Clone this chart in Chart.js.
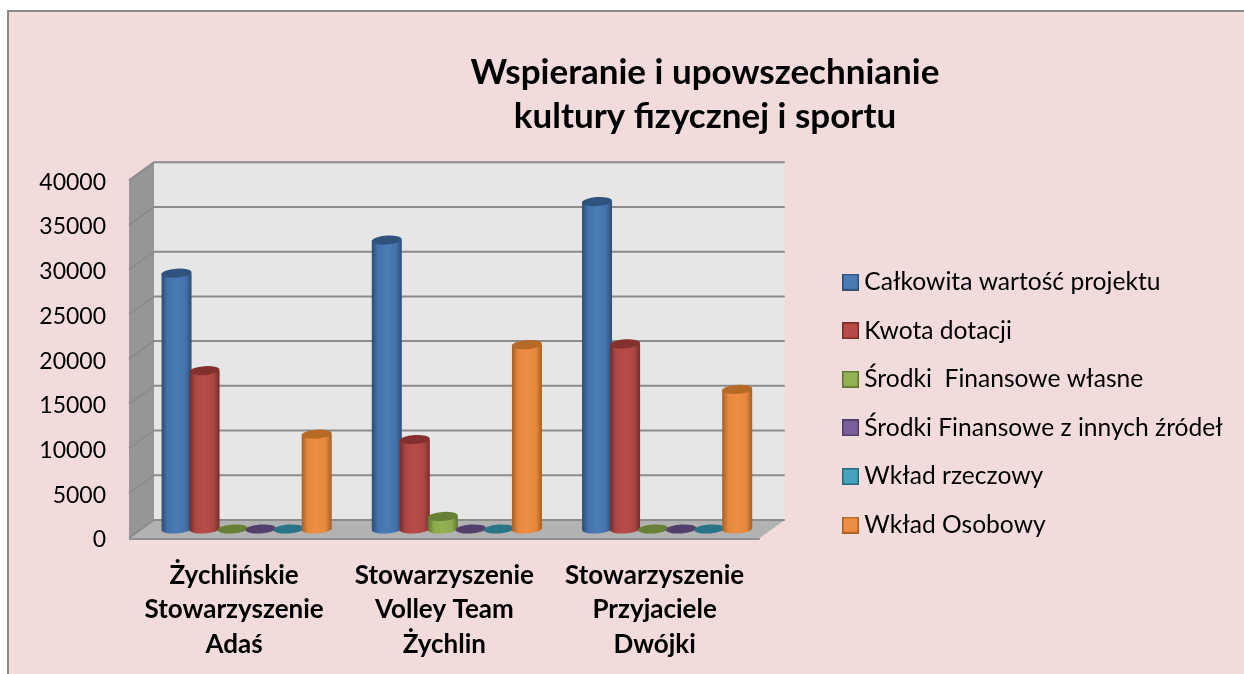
<!DOCTYPE html>
<html lang="pl"><head><meta charset="utf-8">
<script src="https://cdn.jsdelivr.net/npm/chart.js@4/dist/chart.umd.min.js"></script>
<style>
html,body{margin:0;padding:0;background:#fff;overflow:hidden}
#wrap{position:absolute;left:7px;top:10px;width:1237px;height:664px;background:#f2dcdb;border-left:2px solid #8a8a8a;border-top:2px solid #8a8a8a;box-sizing:border-box}
canvas{position:absolute;left:0;top:0}
</style></head><body>
<div id="wrap"></div>
<canvas id="c" width="1244" height="674"></canvas>
<script>
const categories=[["Żychlińskie","Stowarzyszenie","Adaś"],["Stowarzyszenie","Volley Team","Żychlin"],["Stowarzyszenie","Przyjaciele","Dwójki"]];
const seriesNames=["Całkowita wartość projektu","Kwota dotacji","Środki  Finansowe własne","Środki Finansowe z innych źródeł","Wkład rzeczowy","Wkład Osobowy"];
const calkowita=[28600,32300,36600];
const kwota=[17700,10000,20700];
const wlasne=[0,1400,0];
const inne=[0,0,0];
const rzeczowy=[0,0,0];
const osobowy=[10600,20600,15600];
const valuesBySeries=[calkowita,kwota,wlasne,inne,rzeczowy,osobowy];
const titleLines=["Wspieranie i upowszechnianie","kultury fizycznej i sportu"];
const yTicks=[0,5000,10000,15000,20000,25000,30000,35000,40000];
const colors=[
 {mid:"#4a7bb5",light:"#4373ad",dark:"#2c4d75",top:"#30527e"},
 {mid:"#b84b48",light:"#ac4744",dark:"#772c2a",top:"#84302e"},
 {mid:"#93b254",light:"#8aa84c",dark:"#5f7530",top:"#668035"},
 {mid:"#7a5f9a",light:"#735993",dark:"#4d3b62",top:"#533f6c"},
 {mid:"#47a3bc",light:"#3f9ab3",dark:"#276a7c",top:"#2a7488"},
 {mid:"#ee8e42",light:"#e5883e",dark:"#a65f22",top:"#b66a26"}];
const DX=25,DY=18;
const mx=DX/2,my=DY/2, ry=4.5;
function swatch(col){
 const s=document.createElement('canvas');s.width=17;s.height=17;
 const x=s.getContext('2d');
 x.fillStyle=col.dark;x.fillRect(0,0,17,17);
 x.fillStyle=col.mid;x.fillRect(1.5,1.5,14,14);
 return s;
}
const depth={
 id:'depth',
 beforeDraw(c){
  c.scales.y.getLabelItems().forEach(it=>{it.options.translation=[it.options.translation[0],it.options.translation[1]+2];});
 },
 beforeDatasetsDraw(c){
  const {ctx,chartArea:a,scales:{y}}=c;
  const L=a.left,R=a.right,B=a.bottom,T=a.top;
  ctx.save();
  ctx.fillStyle="#e6e6e6";ctx.fillRect(L+DX,T-DY,R-L,B-T);
  ctx.fillStyle="#969696";ctx.beginPath();ctx.moveTo(L,T);ctx.lineTo(L+DX,T-DY);ctx.lineTo(L+DX,B-DY);ctx.lineTo(L,B);ctx.closePath();ctx.fill();
  ctx.fillStyle="#b2b2b2";ctx.beginPath();ctx.moveTo(L,B);ctx.lineTo(L+DX,B-DY);ctx.lineTo(R+DX,B-DY);ctx.lineTo(R,B);ctx.closePath();ctx.fill();
  ctx.fillStyle="#8f8f8f";ctx.fillRect(L,B,R-L,2);
  ctx.strokeStyle="#8c8c8c";ctx.lineWidth=2;
  yTicks.forEach(v=>{const p=y.getPixelForValue(v);ctx.beginPath();ctx.moveTo(L,p);ctx.lineTo(L+DX,p-DY);ctx.lineTo(R+DX,p-DY);ctx.stroke();});
  ctx.restore();
 },
 beforeDatasetDraw(){return false;},
 afterDatasetsDraw(c){
  const ctx=c.ctx;
  ctx.save();ctx.translate(mx,-my);
  seriesNames.forEach((n,i)=>{
   const meta=c.getDatasetMeta(i),col=colors[i];
   meta.data.forEach(b=>{
    const rx=b.width/2;
    const g=ctx.createLinearGradient(b.x-rx,0,b.x+rx,0);
    g.addColorStop(0,col.dark);g.addColorStop(.2,col.light);g.addColorStop(.5,col.mid);g.addColorStop(.8,col.light);g.addColorStop(1,col.dark);
    if(b.base-b.y>1){ctx.fillStyle=g;ctx.beginPath();ctx.ellipse(b.x,b.base,rx,ry,-0.07,0,Math.PI*2);ctx.fill();}
    b.options={backgroundColor:g,borderColor:'rgba(0,0,0,0)',borderWidth:0,borderRadius:0,inflateAmount:0};
    b.draw(ctx);
    ctx.fillStyle=col.top;ctx.beginPath();ctx.ellipse(b.x,b.y,rx,ry,-0.07,0,Math.PI*2);ctx.fill();
   });
  });
  ctx.restore();
 },
 afterLayout(c){
  const l=c.legend;
  l.left=825;l.right=1240;l.top=245.7;l.bottom=674;
  const t=c.titleBlock;
  t.left=400;t.right=1010;
 }
};
new Chart(document.getElementById('c'),{
 type:'bar',
 data:{labels:categories,datasets:seriesNames.map((n,i)=>({label:n,data:valuesBySeries[i],borderWidth:0,
   backgroundColor:colors[i].mid,categoryPercentage:.8,barPercentage:1.07}))},
 plugins:[depth],
 options:{
  responsive:false,animation:false,
  layout:{padding:{left:0,top:0,bottom:0,right:231}},
  plugins:{
   tooltip:{enabled:false},
   title:{display:true,text:titleLines,font:{family:"Lato",size:35,weight:'bold',lineHeight:1.26},color:"#000",padding:{top:51,bottom:41}},
   legend:{position:'right',align:'start',labels:{color:"#000",font:{family:"Lato",size:24.6},usePointStyle:true,pointStyleWidth:3,boxWidth:3,boxHeight:17,padding:24,
     generateLabels(c){return seriesNames.map((n,i)=>({text:n,pointStyle:swatch(colors[i]),fillStyle:colors[i].mid,strokeStyle:colors[i].dark,lineWidth:0,datasetIndex:i,fontColor:"#000"}));}}}
  },
  scales:{
   x:{grid:{display:false,drawTicks:false},border:{display:false},
      ticks:{color:"#000",padding:20,maxRotation:0,autoSkip:false,font:{family:"Lato",size:26,weight:'bold',lineHeight:1.33}},
      afterFit(s){s.height=136;}},
   y:{min:0,max:40000,grid:{display:false,drawTicks:true,tickLength:6,tickColor:"#8c8c8c"},border:{display:false},
      ticks:{stepSize:5000,color:"#000",padding:17,font:{family:"Lato",size:23},callback:v=>String(v)},
      afterFit(s){s.width=129;}}
  }
 }
});
</script></body></html>
